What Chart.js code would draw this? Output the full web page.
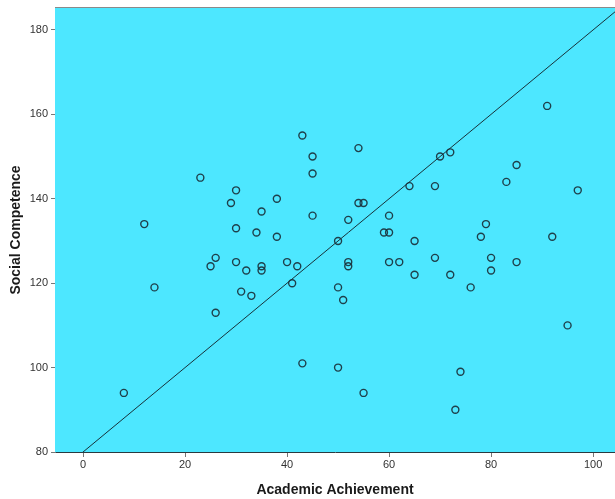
<!DOCTYPE html>
<html>
<head>
<meta charset="utf-8">
<script src="https://cdn.jsdelivr.net/npm/chart.js@4"></script>
<style>
  html, body { margin: 0; padding: 0; background: #fff; }
  #wrap { width: 615px; height: 499px; }
</style>
</head>
<body>
<div id="wrap"><canvas id="scatter" width="615" height="499"></canvas></div>
<script>
// Academic achievement (x) vs social competence (y)
const achievement = [8, 12, 14, 23, 25, 26, 26, 29, 30, 30, 30, 31, 32, 33, 34, 35, 35, 35, 38, 38,
  40, 41, 42, 43, 43, 45, 45, 45, 50, 50, 50, 51, 52, 52, 52, 54, 54, 55, 55, 59,
  60, 60, 60, 62, 64, 65, 65, 69, 69, 70, 72, 72, 73, 74, 76, 78, 79, 80, 80, 83,
  85, 85, 91, 92, 95, 97];
const competence = [94, 134, 119, 145, 124, 126, 113, 139, 142, 133, 125, 118, 123, 117, 132, 137, 124, 123, 140, 131,
  125, 120, 124, 155, 101, 150, 146, 136, 130, 119, 100, 116, 135, 125, 124, 152, 139, 139, 94, 132,
  136, 132, 125, 125, 143, 130, 122, 143, 126, 150, 151, 122, 90, 99, 119, 131, 134, 126, 123, 144,
  148, 125, 162, 131, 110, 142];

// reference line y = 80 + 1 * x
const refIntercept = 80;
const refSlope = 1;

const xMin = -5.5, xMax = 104.3;
const yMin = 80, yMax = 185.2;

const points = achievement.map((x, i) => ({ x: x, y: competence[i] }));
const refLine = [xMin, xMax].map(x => ({ x: x, y: refIntercept + refSlope * x }));

// cyan plot background + top frame line
const plotFrame = {
    id: 'plotFrame',
    beforeDatasetsDraw(chart) {
        const { ctx, chartArea: a } = chart;
        ctx.save();
        ctx.fillStyle = '#4de7ff';
        ctx.fillRect(a.left, a.top, a.right - a.left, a.bottom - a.top);
        ctx.strokeStyle = '#8a8a8a';
        ctx.lineWidth = 1;
        ctx.beginPath();
        ctx.moveTo(a.left, a.top - 0.5);
        ctx.lineTo(a.right, a.top - 0.5);
        ctx.stroke();
        ctx.restore();
    }
};

const tickFont = { family: 'Liberation Sans, Arial, sans-serif', size: 11 };
const titleFont = { family: 'Liberation Sans, Arial, sans-serif', size: 14, weight: 'bold' };

new Chart(document.getElementById('scatter'), {
    type: 'scatter',
    data: {
        datasets: [{
            label: 'Cases',
            data: points,
            pointRadius: 3.5,
            pointHoverRadius: 3.5,
            pointBorderWidth: 1.4,
            pointBorderColor: 'rgba(25,45,55,0.9)',
            pointBackgroundColor: 'rgba(0,0,0,0)',
            order: 1
        }, {
            type: 'line',
            label: 'Reference',
            data: refLine,
            borderColor: '#17323a',
            borderWidth: 1,
            pointRadius: 0,
            fill: false,
            order: 2
        }]
    },
    options: {
        responsive: false,
        animation: false,
        layout: { autoPadding: false, padding: { top: 8, right: 0, left: 0, bottom: 0 } },
        plugins: {
            legend: { display: false },
            tooltip: { enabled: false }
        },
        scales: {
            x: {
                type: 'linear',
                min: xMin,
                max: xMax,
                afterFit(scale) {
                    scale.height = 47;
                    // let the plot run to the right edge like the reference
                    scale.paddingRight = 0;
                    scale.paddingLeft = 0;
                },
                ticks: { stepSize: 20, includeBounds: false, color: '#333', font: tickFont, padding: 1, maxRotation: 0 },
                grid: { drawOnChartArea: false, drawTicks: true, tickLength: 5, color: '#777' },
                border: { display: true, color: '#2a3a40', width: 1 },
                title: { display: true, text: 'Academic Achievement', color: '#1a1a1a', font: titleFont, padding: { top: 0, bottom: 0 } }
            },
            y: {
                type: 'linear',
                min: yMin,
                max: yMax,
                afterFit(scale) {
                    scale.width = 55;
                    scale.paddingTop = 0;
                    scale.paddingBottom = 0;
                },
                ticks: { stepSize: 20, includeBounds: false, color: '#333', font: tickFont, padding: 3 },
                grid: { drawOnChartArea: false, drawTicks: true, tickLength: 4, color: '#777' },
                border: { display: true, color: '#777', width: 1 },
                title: { display: true, text: 'Social Competence', color: '#1a1a1a', font: titleFont, padding: { top: 8, bottom: 0 } }
            }
        }
    },
    plugins: [plotFrame]
});
</script>
</body>
</html>
